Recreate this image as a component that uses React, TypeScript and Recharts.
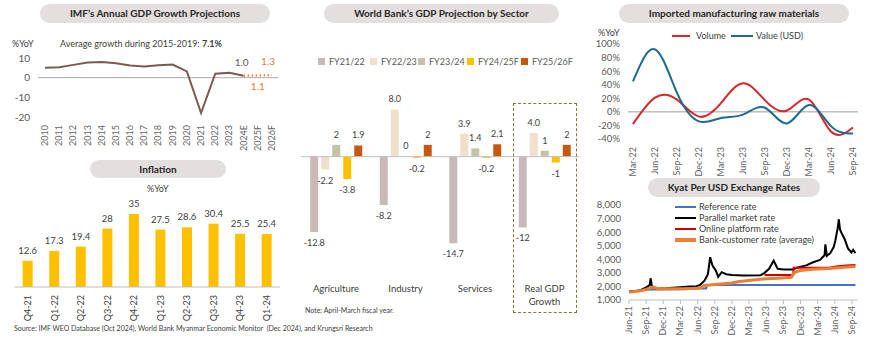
import React from "react";
import { Bar, BarChart, LabelList, Line, LineChart, ReferenceLine, XAxis, YAxis } from "recharts";

const FONT = "Lato, 'Open Sans', sans-serif";
const TICK = "#595959";
const LABEL = "#404040";

// IMF annual GDP growth, %YoY
const gdpYears = ["2010", "2011", "2012", "2013", "2014", "2015", "2016", "2017", "2018", "2019", "2020", "2021", "2022", "2023", "2024E", "2025F", "2026F"];
const gdpActual = [5.0, 5.3, 6.5, 7.7, 8.0, 7.3, 6.2, 5.7, 6.3, 6.7, 3.2, -18.0, 2.0, 2.5, 1.0, null, null];
const gdpForecast = [null, null, null, null, null, null, null, null, null, null, null, null, null, null, 1.0, 1.1, 1.3];

// inflation, %YoY
const inflQuarters = ["Q4-21", "Q1-22", "Q2-22", "Q3-22", "Q4-22", "Q1-23", "Q2-23", "Q3-23", "Q4-23", "Q1-24"];
const inflValues = [12.6, 17.3, 19.4, 28, 35, 27.5, 28.6, 30.4, 25.5, 25.4];

// World Bank GDP projection by sector
const sectors = ["Agriculture", "Industry", "Services", "Real GDP Growth"];
const fy2122 = [-12.8, -8.2, -14.7, -12];
const fy2223 = [-2.2, 8.0, 3.9, 4.0];
const fy2324 = [2, 0, 1.4, 1];
const fy2425 = [-3.8, -0.2, -0.2, -1];
const fy2526 = [1.9, 2, 2.1, 2];
const fy2122Text = ["-12.8", "-8.2", "-14.7", "-12"];
const fy2223Text = ["-2.2", "8.0", "3.9", "4.0"];
const fy2324Text = ["2", "0", "1.4", "1"];
const fy2425Text = ["-3.8", "-0.2", "-0.2", "-1"];
const fy2526Text = ["1.9", "2", "2.1", "2"];

// imported manufacturing raw materials, %YoY
const impQuarters = ["Mar-22", "Jun-22", "Sep-22", "Dec-22", "Mar-23", "Jun-23", "Sep-23", "Dec-23", "Mar-24", "Jun-24", "Sep-24"];
const impVolume = [-18, 21, 18, -7, 13, 42, 17, 2, 18, -29, -23];
const impValue = [45, 92, 28, -14, -9, -4, 6, -17, 10, -21, -32];

// kyat per USD, [months since Jun-21, rate]
const fxTickLabels = ["Jun-21", "Sep-21", "Dec-21", "Mar-22", "Jun-22", "Sep-22", "Dec-22", "Mar-23", "Jun-23", "Sep-23", "Dec-23", "Mar-24", "Jun-24", "Sep-24"];
const referenceRate = [[0, 1630], [2, 1700], [3, 1760], [4, 1780], [10, 1800], [11, 1850], [13.5, 1850], [13.6, 2100], [39.6, 2100]];
const parallelRate = [
  [0, 1600], [1, 1650], [2, 1720], [3, 1930], [3.6, 2100], [3.8, 2600], [4.0, 2000], [4.8, 1830], [6.5, 1860],
  [8.3, 1930], [10.6, 2000], [11.8, 2020], [12.4, 2100], [13.2, 2420], [13.8, 2900], [14.2, 4150], [14.6, 3530],
  [15.2, 3160], [15.6, 2700], [16.2, 3050], [17, 2900], [18, 2850], [20, 2800], [23, 2820], [23.7, 3000],
  [24.5, 3300], [25.3, 3900], [26, 3300], [27, 3250], [28.7, 3250], [29.5, 3400], [31, 3550], [32.2, 3780],
  [33.4, 3950], [34.2, 4300], [34.35, 5100], [34.6, 4250], [35.2, 4450], [35.8, 4900], [36.1, 5400], [36.5, 6300],
  [36.7, 6950], [36.9, 6200], [37.1, 6000], [37.7, 5500], [38.3, 4800], [38.9, 4500], [39.2, 4700], [39.6, 4450],
];
const onlineRate = [[23.7, 2850], [28.7, 2850], [28.8, 3370], [35, 3380], [36.5, 3480], [38, 3540], [39.6, 3580]];
const bankRate = [
  [0, 1580], [1, 1620], [2, 1680], [3, 1780], [3.8, 1900], [4.3, 1950], [5, 1830], [8, 1820], [11, 1840],
  [12.5, 1880], [13.2, 2080], [14, 2100], [16, 2180], [18, 2250], [19, 2350], [21.7, 2480], [23.4, 2540],
  [26, 2600], [28.4, 2680], [28.9, 3020], [30, 3180], [32, 3260], [35, 3330], [37, 3400], [39.6, 3470],
];

const gdpData = gdpYears.map((year, i) => ({ year, actual: gdpActual[i], forecast: gdpForecast[i] }));
const inflData = inflQuarters.map((q, i) => ({ q, v: inflValues[i] }));
const wbData = sectors.map((s, i) => ({
  s,
  a: fy2122[i], b: fy2223[i], c: fy2324[i], d: fy2425[i], e: fy2526[i],
  aT: fy2122Text[i], bT: fy2223Text[i], cT: fy2324Text[i], dT: fy2425Text[i], eT: fy2526Text[i],
}));
const impData = impQuarters.map((q, i) => ({ q, vol: impVolume[i], val: impValue[i] }));
const toPts = (arr: number[][]) => arr.map(([t, v]) => ({ t, v }));

const wbSeries = [
  { key: "a", name: "FY21/22", color: "#c9b9b9" },
  { key: "b", name: "FY22/23", color: "#ede1cc" },
  { key: "c", name: "FY23/24", color: "#c6c2a9" },
  { key: "d", name: "FY24/25F", color: "#ffc000" },
  { key: "e", name: "FY25/26F", color: "#c65911" },
];

function Pill({ x, y, w, h, text }: { x: number; y: number; w: number; h: number; text: string }) {
  return (
    <div style={{ position: "absolute", left: x, top: y, width: w, height: h, borderRadius: h / 2, background: "#e4dfdf", color: "#262626", fontWeight: 700, fontSize: 10, lineHeight: h + "px", textAlign: "center" }}>
      {text}
    </div>
  );
}

function Txt({ x, y, size = 9, color = LABEL, children }: any) {
  return (
    <div style={{ position: "absolute", left: x, top: y, fontSize: size, color, whiteSpace: "pre", lineHeight: 1 }}>
      {children}
    </div>
  );
}

const RotTick = (props: any) => {
  const { x, y, payload, fmt, size = 9, fill = TICK } = props;
  return (
    <g transform={`translate(${x},${y})`}>
      <text transform="rotate(-90)" textAnchor="end" dy="0.33em" fontSize={size} fill={fill} fontFamily={FONT}>
        {fmt ? fmt(payload.value) : payload.value}
      </text>
    </g>
  );
};

const SectorTick = (props: any) => {
  const { x, y, payload } = props;
  const s: string = payload.value;
  const cut = s.length > 12 ? s.lastIndexOf(" ") : -1;
  const lines = cut > 0 ? [s.slice(0, cut), s.slice(cut + 1)] : [s];
  return (
    <text x={x} y={y + 33} textAnchor="middle" fontSize={9.5} fill={LABEL} fontFamily={FONT}>
      {lines.map((l, i) => (
        <tspan key={i} x={x} dy={i === 0 ? 0 : 13}>{l}</tspan>
      ))}
    </text>
  );
};

const barText = (size: number) => (p: any) => {
  const { x, y, width, height, value } = p;
  if (value == null) return null;
  const t = String(value);
  const top = Math.min(y, y + height);
  const bottom = Math.max(y, y + height);
  const neg = t.startsWith("-");
  return (
    <text x={x + width / 2} y={neg ? bottom + 14 : top - 7} textAnchor="middle" fontSize={size} fill={LABEL} fontFamily={FONT}>
      {t}
    </text>
  );
};

const gdpLabel = (which: string) => (p: any) => {
  const { x, y, index } = p;
  if (which === "actual" && index === 14) {
    return <text key="a" x={x - 2} y={y - 10} textAnchor="middle" fontSize={10} fill={TICK} fontFamily={FONT}>1.0</text>;
  }
  if (which === "forecast" && index === 15) {
    return <text key="b" x={x} y={y + 14} textAnchor="middle" fontSize={10} fill="#e07b39" fontFamily={FONT}>1.1</text>;
  }
  if (which === "forecast" && index === 16) {
    return <text key="c" x={x - 4} y={y - 10} textAnchor="middle" fontSize={10} fill="#e07b39" fontFamily={FONT}>1.3</text>;
  }
  return null;
};

export default function App() {
  return (
    <div style={{ position: "absolute", left: 0, top: 0, width: 870, height: 358, background: "#fff", fontFamily: FONT, overflow: "hidden" }}>
      {/* IMF GDP */}
      <Pill x={40} y={4} w={230} h={19} text="IMF’s Annual GDP Growth Projections" />
      <Txt x={12} y={39}>%YoY</Txt>
      <Txt x={60} y={39}>Average growth during 2015-2019: <b>7.1%</b></Txt>
      <div style={{ position: "absolute", left: 0, top: 40 }}>
        <LineChart width={290} height={120} data={gdpData} margin={{ top: 18, right: 12, bottom: 8, left: 0 }}>
          <XAxis dataKey="year" interval={0} padding={{ left: 7, right: 6 }} height={35} axisLine={false} tickLine={false} tick={<RotTick size={9} />} />
          <YAxis width={38} domain={[-20, 10]} ticks={[-20, -10, 0, 10]} interval={0} axisLine={false} tickLine={false} tick={{ fontSize: 10, fill: TICK }} />
          <ReferenceLine y={0} stroke="#b0aaa8" />
          <Line dataKey="actual" stroke="#7a5b52" strokeWidth={2} dot={false} isAnimationActive={false} label={gdpLabel("actual")} />
          <Line dataKey="forecast" stroke="#e07b39" strokeWidth={2} strokeDasharray="1.5 2.5" dot={false} isAnimationActive={false} label={gdpLabel("forecast")} />
        </LineChart>
      </div>

      {/* Inflation */}
      <Pill x={90} y={160} w={136} h={18} text="Inflation" />
      <Txt x={147} y={184}>%YoY</Txt>
      <div style={{ position: "absolute", left: 0, top: 195 }}>
        <BarChart width={290} height={130} data={inflData} margin={{ top: 8.6, right: 9.8, bottom: 6, left: 14.7 }}>
          <XAxis dataKey="q" interval={0} height={32} axisLine={{ stroke: "#bfbfbf" }} tickLine={false} tick={<RotTick size={9} fill={LABEL} />} />
          <YAxis hide domain={[0, 40]} />
          <Bar dataKey="v" fill="#ffc000" barSize={10} isAnimationActive={false}>
            <LabelList dataKey="v" content={barText(9.5)} />
          </Bar>
        </BarChart>
      </div>

      {/* World Bank by sector */}
      <Pill x={324} y={4} w={235} h={19} text="World Bank’s GDP Projection by Sector" />
      {wbSeries.map((s, i) => (
        <div key={s.key} style={{ position: "absolute", left: [318, 370, 418, 467, 521][i], top: 56, display: "flex", alignItems: "center", fontSize: 9, color: TICK }}>
          <span style={{ width: 7, height: 7, background: s.color, marginRight: 4 }} />
          {s.name}
        </div>
      ))}
      <div style={{ position: "absolute", left: 290, top: 40 }}>
        <BarChart width={300} height={280} data={wbData} barSize={8} barGap={3} margin={{ top: 57.7, right: 10.75, bottom: 19, left: 11.25 }}>
          <XAxis dataKey="s" interval={0} height={50} axisLine={false} tickLine={false} tick={<SectorTick />} />
          <YAxis hide domain={[-16, 10]} />
          <ReferenceLine y={0} stroke="#bfbfbf" />
          {wbSeries.map((s) => (
            <Bar key={s.key} dataKey={s.key} name={s.name} fill={s.color} isAnimationActive={false} minPointSize={(v: number) => (v === 0 ? 0.3 : 0)}>
              <LabelList dataKey={s.key + "T"} content={barText(9)} />
            </Bar>
          ))}
        </BarChart>
      </div>
      <div style={{ position: "absolute", left: 513, top: 103, width: 62, height: 208, border: "1.3px dashed #8a7442" }} />
      <Txt x={305} y={307} size={7}>Note: April-March fiscal year.</Txt>

      {/* Imported raw materials */}
      <Pill x={619} y={4} w={230} h={19} text="Imported manufacturing raw materials" />
      <Txt x={598} y={28}>%YoY</Txt>
      <div style={{ position: "absolute", left: 672, top: 35, width: 18, height: 2, background: "#d7262c" }} />
      <Txt x={696} y={31}>Volume</Txt>
      <div style={{ position: "absolute", left: 731, top: 35, width: 22, height: 2, background: "#1b6b8c" }} />
      <Txt x={756} y={31}>Value (USD)</Txt>
      <div style={{ position: "absolute", left: 590, top: 35 }}>
        <LineChart width={280} height={145} data={impData} margin={{ top: 9, right: 12, bottom: 6, left: 0 }}>
          <XAxis dataKey="q" interval={0} padding={{ left: 5, right: 5 }} height={35} axisLine={false} tickLine={false} tick={<RotTick size={9} />} />
          <YAxis width={38} domain={[-40, 100]} ticks={[-40, -20, 0, 20, 40, 60, 80, 100]} interval={0} tickFormatter={(v) => v + "%"} axisLine={false} tickLine={false} tick={{ fontSize: 9.5, fill: TICK }} />
          <ReferenceLine y={0} stroke="#a59a95" />
          <Line type="natural" dataKey="vol" stroke="#d7262c" strokeWidth={2} dot={false} isAnimationActive={false} />
          <Line type="natural" dataKey="val" stroke="#1b6b8c" strokeWidth={2} dot={false} isAnimationActive={false} />
        </LineChart>
      </div>

      {/* Kyat per USD */}
      <Pill x={648} y={178} w={172} h={19} text="Kyat Per USD Exchange Rates" />
      {[
        { name: "Reference rate", color: "#4472c4", w: 2 },
        { name: "Parallel market rate", color: "#000", w: 2.5 },
        { name: "Online platform rate", color: "#d00000", w: 2 },
        { name: "Bank-customer rate (average)", color: "#ed7d31", w: 3.5 },
      ].map((s, i) => (
        <React.Fragment key={s.name}>
          <div style={{ position: "absolute", left: 675, top: 207 + i * 11 - s.w / 2, width: 21, height: s.w, background: s.color }} />
          <Txt x={699} y={202 + i * 11}>{s.name}</Txt>
        </React.Fragment>
      ))}
      <div style={{ position: "absolute", left: 590, top: 195 }}>
        <LineChart width={280} height={140} margin={{ top: 10, right: 12.3, bottom: 3, left: 0 }}>
          <XAxis dataKey="t" type="number" domain={[0, 40]} ticks={fxTickLabels.map((_, i) => i * 3)} interval={0} height={32} axisLine={{ stroke: "#bfbfbf" }} tickLine={{ stroke: "#bfbfbf" }} tickSize={4} tick={<RotTick size={9} fmt={(v: number) => fxTickLabels[v / 3]} />} />
          <YAxis width={39} domain={[1000, 8000]} ticks={[1000, 2000, 3000, 4000, 5000, 6000, 7000, 8000]} interval={0} tickFormatter={(v) => v.toLocaleString("en-US")} axisLine={false} tickLine={false} tick={{ fontSize: 9.5, fill: TICK }} />
          <Line data={toPts(referenceRate)} dataKey="v" stroke="#4472c4" strokeWidth={2} dot={false} isAnimationActive={false} />
          <Line data={toPts(parallelRate)} dataKey="v" stroke="#000" strokeWidth={2} dot={false} isAnimationActive={false} />
          <Line data={toPts(onlineRate)} dataKey="v" stroke="#d00000" strokeWidth={2} dot={false} isAnimationActive={false} />
          <Line data={toPts(bankRate)} dataKey="v" stroke="#ed7d31" strokeWidth={3} dot={false} isAnimationActive={false} />
        </LineChart>
      </div>

      <Txt x={14} y={325} size={7}>Source: IMF WEO Database (Oct 2024), World Bank Myanmar Economic Monitor  (Dec 2024), and Krungsri Research</Txt>
    </div>
  );
}
